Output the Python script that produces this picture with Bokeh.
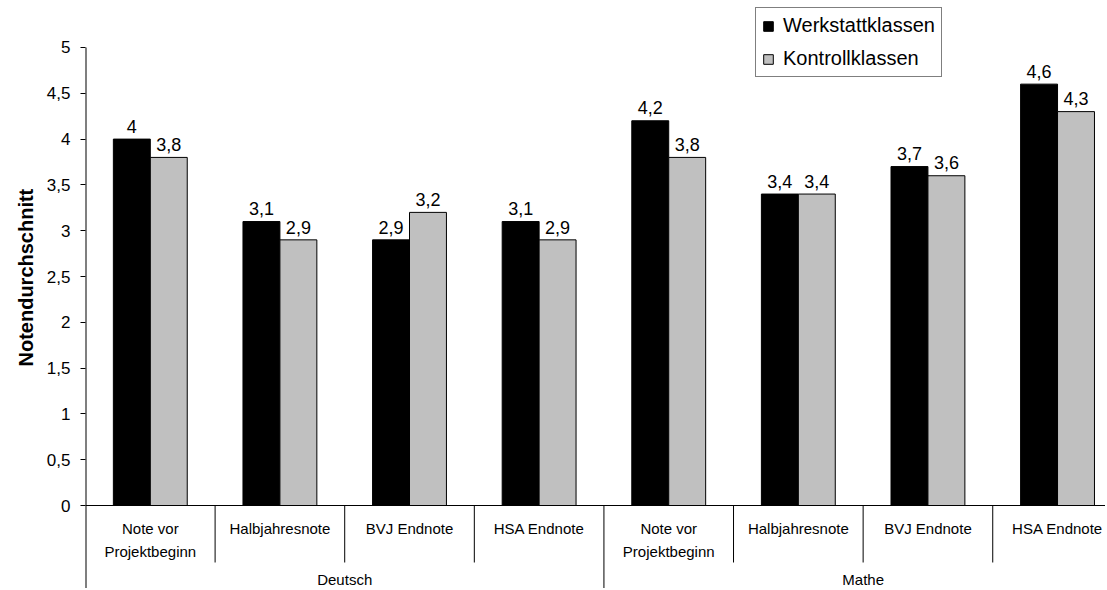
from bokeh.plotting import figure
from bokeh.models import Range1d, FixedTicker, CustomJSTickFormatter, Legend, LegendItem, Span, ColumnDataSource, Title
from bokeh.core.properties import value
from bokeh.embed import file_html
from bokeh.resources import INLINE

# ---- data ----
subcategories = ["Note vor\nProjektbeginn", "Halbjahresnote", "BVJ Endnote", "HSA Endnote"]
groups = ["Deutsch", "Mathe"]
werkstatt = [4.0, 3.1, 2.9, 3.1, 4.2, 3.4, 3.7, 4.6]
kontroll = [3.8, 2.9, 3.2, 2.9, 3.8, 3.4, 3.6, 4.3]
series_names = ["Werkstattklassen", "Kontrollklassen"]
y_ticks = [0, 0.5, 1, 1.5, 2, 2.5, 3, 3.5, 4, 4.5, 5]
y_label = "Notendurchschnitt"

FONT = value("Liberation Sans")
n_sub = len(subcategories)
n_cat = n_sub * len(groups)
idx = list(range(n_cat))

Y_MIN, Y_MAX = -0.906, 5.513

def fmt(v):
    return f"{v:g}".replace(".", ",")

p = figure(width=1105, height=588, output_backend="svg", toolbar_location=None,
           x_range=Range1d(0, 7.87), y_range=Range1d(Y_MIN, Y_MAX),
           x_axis_location=None, title=None,
           min_border_left=85, min_border_right=0, min_border_top=0, min_border_bottom=0)
p.outline_line_color = None
p.xgrid.visible = False
p.ygrid.visible = False
p.background_fill_color = "white"
p.border_fill_color = "white"

# y axis
ax = p.yaxis[0]
ax.bounds = (0, 5)
ax.ticker = FixedTicker(ticks=y_ticks, minor_ticks=[])
ax.formatter = CustomJSTickFormatter(code="return String(tick).replace('.', ',');")
ax.major_tick_in = 0
ax.major_tick_out = 5
ax.minor_tick_line_color = None
ax.axis_line_color = None
ax.major_tick_line_color = "black"
ax.major_label_text_font = "Liberation Sans"
ax.major_label_text_font_size = "17px"
ax.major_label_text_color = "black"
ax.major_label_standoff = 10

# y axis title, centred on the 0..5 value span
p.add_layout(Title(text=y_label, align="left", offset=222, standoff=14,
                   text_font="Liberation Sans", text_font_size="20px",
                   text_font_style="bold", text_color="black"), "left")

# vertical axis line (continues below zero as the outer category separator)
p.segment(x0=[0], y0=[Y_MIN], x1=[0], y1=[y_ticks[-1]], line_color="black", line_width=2)

# bars
bw = 0.285
src = ColumnDataSource(dict(
    xw=[i + 0.5 - bw / 2 for i in idx],
    xk=[i + 0.5 + bw / 2 for i in idx],
    w=werkstatt, k=kontroll,
    lw=[fmt(v) for v in werkstatt], lk=[fmt(v) for v in kontroll],
    tw=[v + 0.14 for v in werkstatt], tk=[v + 0.14 for v in kontroll],
))
r1 = p.vbar(x="xw", top="w", bottom=0, width=bw, source=src,
            fill_color="#000000", line_color="black", line_width=1)
r2 = p.vbar(x="xk", top="k", bottom=0, width=bw, source=src,
            fill_color="#C0C0C0", line_color="black", line_width=1)

p.text(x="xw", y="tw", text="lw", source=src, text_align="center", text_baseline="alphabetic",
       text_font=FONT, text_font_size="18px", text_color="black")
p.text(x="xk", y="tk", text="lk", source=src, text_align="center", text_baseline="alphabetic",
       text_font=FONT, text_font_size="18px", text_color="black")

# category axis (drawn manually)
p.add_layout(Span(location=0, dimension="width", line_color="black", line_width=1))
sub_sep = [i for i in range(1, n_cat) if i % n_sub != 0]
p.segment(x0=sub_sep, y0=[0] * len(sub_sep), x1=sub_sep, y1=[-0.622] * len(sub_sep),
          line_color="black", line_width=1)
grp_sep = [g * n_sub for g in range(1, len(groups) + 1)]
p.segment(x0=grp_sep, y0=[0] * len(grp_sep), x1=grp_sep, y1=[Y_MIN] * len(grp_sep),
          line_color="black", line_width=1)

lx, ly, lt = [], [], []
for i in idx:
    for k, line in enumerate(subcategories[i % n_sub].split("\n")):
        lx.append(i + 0.5)
        ly.append(-0.25 - 0.25 * k)
        lt.append(line)
p.text(x=lx, y=ly, text=lt, text_align="center", text_baseline="middle",
       text_font=FONT, text_font_size="15px", text_color="black")
p.text(x=[g * n_sub + n_sub / 2 for g in range(len(groups))], y=[-0.805] * len(groups), text=groups,
       text_align="center", text_baseline="middle",
       text_font=FONT, text_font_size="15px", text_color="black")

legend = Legend(items=[LegendItem(label=series_names[0], renderers=[r1]),
                       LegendItem(label=series_names[1], renderers=[r2])],
                location=(670, 511))
legend.label_text_font = "Liberation Sans"
legend.label_text_font_size = "20px"
legend.label_text_color = "black"
legend.glyph_width = 12
legend.glyph_height = 12
legend.label_height = 22
legend.label_standoff = 9
legend.padding = 6
legend.spacing = 10
legend.margin = 0
legend.border_line_color = "black"
legend.border_line_width = 1
legend.background_fill_color = "white"
legend.background_fill_alpha = 1
p.add_layout(legend)

open("out.html", "w").write(file_html(p, INLINE))
